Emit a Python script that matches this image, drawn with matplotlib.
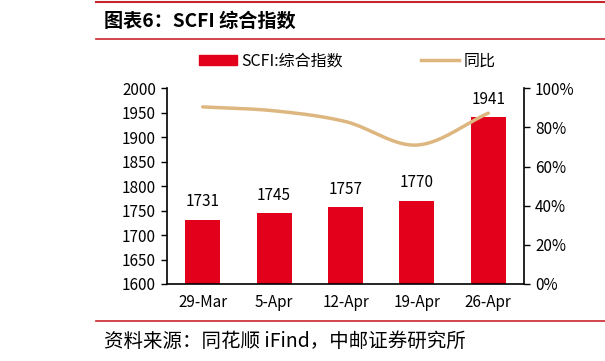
import numpy as np
import matplotlib
matplotlib.use("Agg")
import matplotlib.pyplot as plt
from matplotlib.lines import Line2D
from matplotlib.patches import Patch

plt.rcParams['font.family'] = ['Noto Sans CJK SC', 'DejaVu Sans']

categories = ['29-Mar', '5-Apr', '12-Apr', '19-Apr', '26-Apr']
scfi = [1731, 1745, 1757, 1770, 1941]
yoy = [90.5, 88.5, 83.0, 71.0, 87.3]  # percent
left_ticks = [1600, 1650, 1700, 1750, 1800, 1850, 1900, 1950, 2000]
right_ticks = [0, 20, 40, 60, 80, 100]

BAR = '#E2001A'
LINE = '#DDB77F'
RED = '#C8242B'

fig = plt.figure(figsize=(6.05, 3.61), dpi=100)
ax = fig.add_axes([167/605, 1-284/361, (524-167)/605, (284-88.3)/361])
x = np.arange(len(categories))
ax.bar(x, scfi, width=0.49, color=BAR, zorder=2)
ax.set_ylim(1600, 2000)
ax.set_xlim(-0.5, len(categories)-0.5)
ax.set_yticks(left_ticks)
ax.set_yticklabels([str(t) for t in left_ticks], fontsize=11)
ax.set_xticks(x)
ax.set_xticklabels(categories, fontsize=11)
ax.tick_params(axis='x', length=0, pad=7)
ax.tick_params(axis='y', length=4, width=1, direction='out', pad=4)
for s in ['top', 'right']:
    ax.spines[s].set_visible(False)
for s in ['left', 'bottom']:
    ax.spines[s].set_linewidth(1.2)
for xi, v in zip(x, scfi):
    ax.annotate(str(v), (xi, v), xytext=(0, 13), textcoords='offset points',
                ha='center', va='center', fontsize=11)

ax2 = ax.twinx()
ax2.set_ylim(0, 100)
ax2.set_yticks(right_ticks)
ax2.set_yticklabels([f'{t}%' for t in right_ticks], fontsize=11)
ax2.tick_params(axis='y', length=4, width=1, direction='out', pad=4)
for s in ['top', 'left', 'bottom']:
    ax2.spines[s].set_visible(False)
ax2.spines['right'].set_linewidth(1.2)

# Catmull-Rom smoothing through the data points
px = np.array(x, dtype=float)
py = np.array(yoy, dtype=float)
xs, ys = [], []
n = len(px)
for i in range(n-1):
    p0 = (px[i-1], py[i-1]) if i > 0 else (2*px[i]-px[i+1], 2*py[i]-py[i+1])
    p1 = (px[i], py[i]); p2 = (px[i+1], py[i+1])
    p3 = (px[i+2], py[i+2]) if i+2 < n else (2*px[i+1]-px[i], 2*py[i+1]-py[i])
    t = np.linspace(0, 1, 40)
    for k in range(2):
        a0, a1, a2, a3 = p0[k], p1[k], p2[k], p3[k]
        c = 0.5*((2*a1) + (-a0+a2)*t + (2*a0-5*a1+4*a2-a3)*t**2 + (-a0+3*a1-3*a2+a3)*t**3)
        (xs if k == 0 else ys).extend(c.tolist())
ax2.plot(xs, ys, color=LINE, lw=2.5, solid_capstyle='round', zorder=3)

# Legend
handles = [Patch(color=BAR), Line2D([0], [0], color=LINE, lw=2.5)]
fig.legend(handles, ['SCFI:综合指数', '同比'], loc='center', bbox_to_anchor=(347/605, 1-61/361),
           ncol=2, frameon=False, fontsize=11.5, handlelength=2.4, handleheight=0.6,
           columnspacing=4.9, handletextpad=0.25)

# Title & source
fig.add_artist(Line2D([96/605, 1], [1-1.5/361]*2, color=RED, lw=1.5))
fig.text(104/605, 1-21/361, '图表6：SCFI 综合指数', fontsize=13.8, fontweight='bold', va='center', ha='left')
fig.add_artist(Line2D([96/605, 1], [1-39/361]*2, color=RED, lw=1.2))
fig.add_artist(Line2D([96/605, 1], [1-321/361]*2, color=RED, lw=1.2))
fig.text(104/605, 1-341/361, '资料来源：同花顺 iFind，中邮证券研究所', fontsize=14, va='center', ha='left')

fig.savefig('out.png', dpi=100)
